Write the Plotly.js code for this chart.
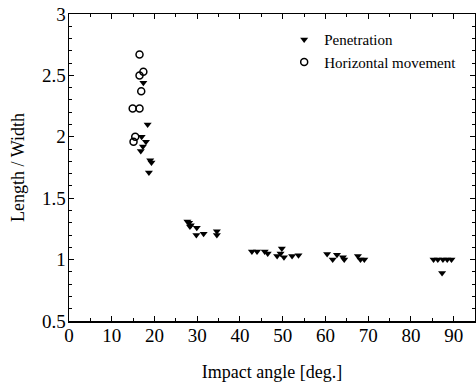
<!DOCTYPE html>
<html>
<head>
<meta charset="utf-8">
<script src="https://cdn.plot.ly/plotly-3.0.1.min.js"></script>
<style>html,body{margin:0;padding:0;background:#fff;}#chart{width:476px;height:387px;}</style>
</head>
<body>
<div id="chart"></div>
<script>
const penX = [17.4, 18.4, 17.0, 18.0, 17.3, 16.8, 19.0, 19.3, 18.7,
  27.7, 28.1, 28.5, 28.3, 29.9, 29.8, 31.5, 34.6, 34.6,
  42.8, 44.0, 45.8, 46.5, 49.8, 49.5, 48.7, 50.3, 52.2, 53.7,
  60.4, 61.7, 62.7, 64.1, 64.4, 67.6, 68.2, 69.1,
  85.3, 86.3, 87.5, 88.5, 89.5, 87.3];
const penY = [2.44, 2.10, 2.00, 1.96, 1.92, 1.885, 1.81, 1.79, 1.71,
  1.31, 1.30, 1.28, 1.27, 1.26, 1.20, 1.21, 1.23, 1.20,
  1.065, 1.065, 1.065, 1.05, 1.09, 1.05, 1.03, 1.02, 1.03, 1.035,
  1.045, 1.00, 1.04, 1.02, 1.00, 1.03, 1.00, 1.00,
  1.00, 1.00, 1.00, 1.00, 1.00, 0.89];
const horX = [16.5, 17.4, 16.5, 16.9, 14.9, 16.5, 15.5, 15.1];
const horY = [2.67, 2.53, 2.50, 2.37, 2.23, 2.23, 2.00, 1.96];
const xTicks = [0, 10, 20, 30, 40, 50, 60, 70, 80, 90];
const yTicks = [0.5, 1, 1.5, 2, 2.5, 3];

const font = {family: '"Liberation Serif", "Times New Roman", serif', color: '#000'};
const data = [
  {x: penX, y: penY, type: 'scatter', mode: 'markers', name: 'Penetration',
   marker: {symbol: 'triangle-down', size: 7, color: '#000'}},
  {x: horX, y: horY, type: 'scatter', mode: 'markers', name: 'Horizontal movement',
   marker: {symbol: 'circle-open', size: 7, color: '#000', line: {width: 1.5, color: '#000'}}}
];
const axisCommon = {showline: true, linecolor: '#000', linewidth: 1.5, mirror: 'ticks',
  ticks: 'inside', ticklen: 5, tickwidth: 1, tickcolor: '#000', showgrid: false, zeroline: false,
  tickfont: Object.assign({size: 19}, font)};
const layout = {
  width: 476, height: 387,
  margin: {l: 69, r: 1, t: 14, b: 66},
  paper_bgcolor: '#fff', plot_bgcolor: '#fff',
  showlegend: true,
  legend: {x: 0.53, y: 0.97, xanchor: 'left', yanchor: 'top', bgcolor: 'rgba(0,0,0,0)',
    font: Object.assign({size: 15}, font), itemwidth: 30, tracegroupgap: 0},
  xaxis: Object.assign({}, axisCommon, {range: [0, 95], tickvals: xTicks, ticklabelstandoff: -3,
    minor: {dtick: 5, ticklen: 3, ticks: 'inside', tickcolor: '#000'},
    title: {text: 'Impact angle [deg.]', font: Object.assign({size: 18}, font), standoff: 20}}),
  yaxis: Object.assign({}, axisCommon, {range: [0.5, 3], tickvals: yTicks, ticklabelstandoff: -2,
    minor: {dtick: 0.1, ticklen: 3, ticks: 'inside', tickcolor: '#000'},
    title: {text: 'Length / Width', font: Object.assign({size: 18}, font), standoff: 12}})
};
Plotly.newPlot('chart', data, layout, {displayModeBar: false, staticPlot: true});
</script>
</body>
</html>
